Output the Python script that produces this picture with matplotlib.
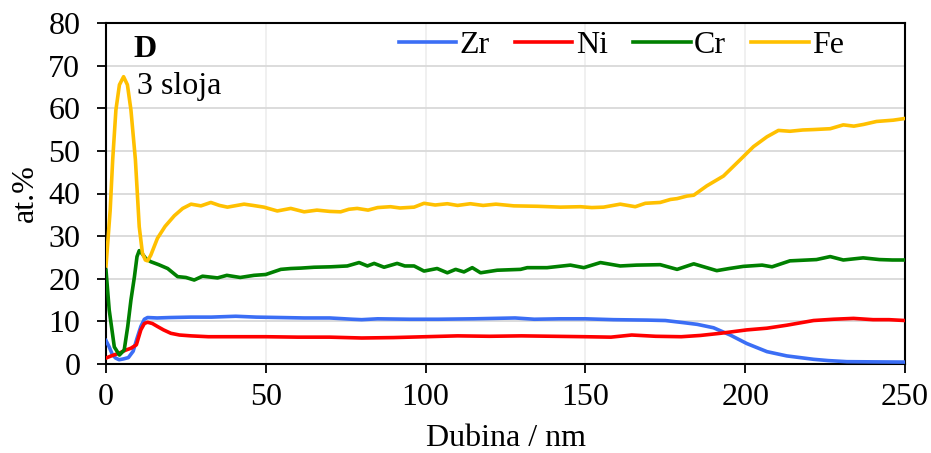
import matplotlib
matplotlib.use('Agg')
import matplotlib.pyplot as plt

plt.rcParams['font.family'] = ['Liberation Serif', 'DejaVu Serif']

# depth profile, at.% vs depth (nm)
depth_fe = [0, 1.3, 2.1, 3.1, 4.2, 5.5, 6.7, 7.8, 9.2, 10.4, 11.4, 12.3, 13, 14, 16.1, 18.5, 21.4,
            24, 26.6, 29.7, 32.8, 35.5, 38, 43.2, 46, 49.4, 53.6, 57.8, 62, 66, 70, 73.4, 76,
            78.6, 82, 85, 89, 92, 96.4, 99.5, 103, 106.8, 110, 114, 118, 122, 127.6, 135, 142.2,
            148.4, 152, 155.7, 160.9, 165.6, 168.75, 173.4, 176.6, 178.7, 181.8, 183.9, 188,
            193.2, 198.4, 202.6, 206.8, 210.4, 214, 218, 221.4, 226.6, 230.7, 234, 237, 241.1,
            246.3, 250]
fe = [23, 36, 48, 59.6, 65.5, 67.4, 65.5, 59.6, 47.9, 32.2, 26, 24.4, 24.2, 25.5, 29.5, 32.3, 34.8,
      36.5, 37.5, 37.1, 37.9, 37.2, 36.8, 37.5, 37.2, 36.8, 35.9, 36.5, 35.7, 36.1, 35.8, 35.7,
      36.3, 36.5, 36.1, 36.7, 36.9, 36.6, 36.8, 37.7, 37.3, 37.6, 37.2, 37.6, 37.2, 37.5, 37.1,
      37.0, 36.8, 36.9, 36.7, 36.8, 37.5, 36.9, 37.7, 37.9, 38.6, 38.8, 39.4, 39.6, 41.8, 44.1,
      47.9, 51, 53.3, 54.8, 54.6, 54.9, 55, 55.2, 56.1, 55.8, 56.2, 56.9, 57.2, 57.6]

depth_cr = [0, 1.0, 2.6, 4.2, 5.7, 6.8, 7.8, 8.9, 9.7, 10.4, 11.4, 12.5, 14, 16.5, 19.3, 22.4, 25,
            27.6, 30.2, 34.9, 37.8, 42, 46.3, 50, 54.7, 57.8, 61, 65.1, 70.3, 75.5, 79.2, 81.8,
            83.9, 87, 91.1, 93.5, 96.4, 99.5, 103.6, 106.8, 109.4, 112, 114.6, 117.2, 122.4,
            129.7, 131.8, 138, 145.3, 149.5, 154.7, 160.9, 166, 173.4, 178.7, 183.9, 191.1,
            195, 199.4, 205.3, 208.4, 214, 222.3, 226.6, 230.7, 236.9, 242, 246, 250]
cr = [22, 12.7, 4, 2.1, 3.3, 8.8, 15, 20.5, 25.2, 26.6, 25.8, 24.7, 24, 23.3, 22.4, 20.5, 20.3,
      19.7, 20.6, 20.2, 20.8, 20.3, 20.8, 21, 22.2, 22.4, 22.5, 22.7, 22.8, 23, 23.8, 23, 23.6,
      22.7, 23.6, 23, 23, 21.8, 22.4, 21.4, 22.2, 21.6, 22.6, 21.4, 22, 22.2, 22.6, 22.6, 23.2,
      22.6, 23.8, 23, 23.2, 23.3, 22.2, 23.5, 21.9, 22.4, 22.9, 23.2, 22.8, 24.2, 24.5, 25.2,
      24.4, 24.9, 24.5, 24.4, 24.4]

depth_zr = [0, 1, 2, 3, 4.1, 5.5, 7, 8.5, 9.7, 10.9, 12, 13, 16, 20, 26.6, 33, 40.6, 47, 54.7, 62,
            70, 77, 80, 85, 95, 104, 115, 128, 134, 142, 150, 158.8, 169.3, 175, 180.7, 185,
            190.1, 195.3, 200.5, 206.8, 213, 221.4, 226, 231.8, 240, 250]
zr = [5.5, 4, 2.2, 1.4, 1.0, 1.2, 1.5, 3, 6, 8.8, 10.5, 10.9, 10.8, 10.9, 11, 11, 11.2, 11, 10.9,
      10.8, 10.8, 10.5, 10.4, 10.6, 10.5, 10.5, 10.6, 10.8, 10.5, 10.6, 10.6, 10.4, 10.3, 10.2,
      9.7, 9.3, 8.5, 6.8, 4.8, 2.9, 1.9, 1.1, 0.8, 0.55, 0.5, 0.45]

depth_ni = [0, 2, 4, 6, 7.8, 9.5, 10.9, 12, 13, 14.5, 16.1, 18, 20.3, 23, 26.6, 32, 40, 50, 60, 70,
            80, 90, 100, 110, 120, 130, 140, 150, 158, 164.5, 172, 180, 186, 192.2, 200.5,
            206.8, 213, 221.4, 227.6, 233.9, 240, 245, 250]
ni = [1.4, 2, 2.5, 3.2, 3.7, 4.5, 8, 9.5, 9.8, 9.5, 8.8, 8, 7.2, 6.8, 6.6, 6.4, 6.4, 6.4, 6.3, 6.3,
      6.1, 6.2, 6.4, 6.6, 6.5, 6.6, 6.5, 6.4, 6.3, 6.8, 6.5, 6.4, 6.7, 7.2, 8.0, 8.4, 9.1, 10.2,
      10.5, 10.7, 10.4, 10.4, 10.2]

fig = plt.figure(figsize=(9.31, 4.53), dpi=100)
ax = fig.add_axes([106 / 931, 1 - 364 / 453, 799 / 931, 341 / 453])

lw = 2.6
ax.plot(depth_zr, zr, color='#3b6ef5', lw=lw, label='Zr', zorder=3)
ax.plot(depth_ni, ni, color='#ff0000', lw=lw, label='Ni', zorder=3)
ax.plot(depth_cr, cr, color='#008000', lw=lw, label='Cr', zorder=3)
ax.plot(depth_fe, fe, color='#ffc000', lw=lw, label='Fe', zorder=3)

ax.set_xlim(0, 250)
ax.set_ylim(0, 80)
ax.set_xticks(range(0, 251, 50))
ax.set_yticks(range(0, 81, 10))
ax.grid(axis='y', color='#d9d9d9', lw=1.3)
ax.grid(axis='x', color='#efefef', lw=1.3)
ax.set_axisbelow(True)
for s in ax.spines.values():
    s.set_color('black')
    s.set_linewidth(1.5)
ax.tick_params(direction='out', length=6.5, width=1.3, labelsize=23)
ax.tick_params(axis='y', pad=12)
ax.tick_params(axis='x', pad=7)

ax.set_xlabel('Dubina / nm', fontsize=23, labelpad=9)
ax.set_ylabel('at.%', fontsize=23, labelpad=6)

ax.text(0.034, 0.965, 'D', transform=ax.transAxes, fontsize=23, fontweight='bold', va='top')
ax.text(0.039, 0.855, '3 sloja', transform=ax.transAxes, fontsize=23, va='top')

ax.legend(loc='center', bbox_to_anchor=(0.645, 0.935), ncol=4, frameon=False, fontsize=23,
          handlelength=1.8, handletextpad=0.1, columnspacing=0.8, borderpad=0)

plt.savefig('out.png', dpi=100)
plt.close('all')
